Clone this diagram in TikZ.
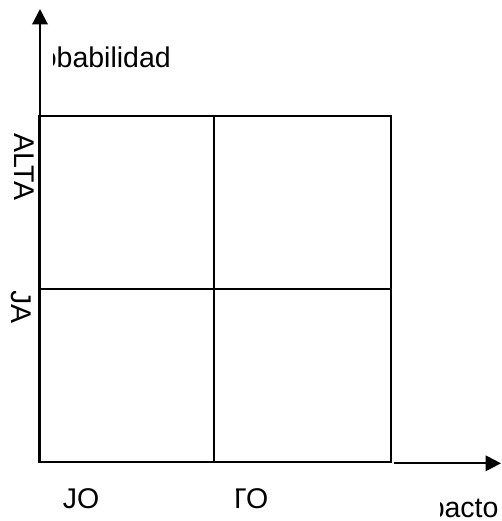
\documentclass[tikz,border=0pt]{standalone}
\usepackage{fontspec}
\setmainfont{Liberation Sans}
\usetikzlibrary{arrows.meta}

\begin{document}
\begin{tikzpicture}[x=1pt, y=-1pt,
    every node/.style={font=\fontsize{28.5}{34}\selectfont, inner sep=0pt},
    axis/.style={line width=2.2pt, -{Triangle[length=15.5pt,width=15.5pt]}},
    cell/.style={line width=2pt}]
  \useasboundingbox (0,0) rectangle (501,521);
  % Axis end points
  \coordinate (origin) at (40,462.2);
  \coordinate (ytip) at (40,9);
  \coordinate (xstart) at (394,463.3);
  \coordinate (xtip) at (501,463.3);

  % Cells
  \draw[cell] (38.5,115.7) rectangle (391,462.2);
  \draw[cell] (214.3,115.7) -- (214.3,462.2);
  \draw[cell] (38.5,288.5) -- (391,288.5);

  % Axes
  \draw[axis] (origin) -- (ytip);
  \draw[axis] (xstart) -- (xtip);

  % Axis labels, partly hidden
  \begin{scope}
    \clip (53.5,30) rectangle (200,90);
    \node[anchor=base east] (yname) at (171,68) {Probabilidad};
  \end{scope}
  \begin{scope}
    \clip (440.5,480) rectangle (501,521);
    \node[anchor=base east] (xname) at (498.7,517) {Impacto};
  \end{scope}

  % Levels on the vertical axis
  \node[rotate=-90, anchor=base west] (yhigh) at (14,133) {ALTA};
  \begin{scope}
    \clip (0,291) rectangle (37,340);
    \node[rotate=-90, anchor=base east] (ylow) at (12,324) {BAJA};
  \end{scope}

  % Levels on the horizontal axis
  \begin{scope}
    \clip (63.1,470) rectangle (120,521);
    \node[anchor=base east] (xlow) at (99.4,508) {BAJO};
  \end{scope}
  \begin{scope}
    \clip (236.3,470) rectangle (290,521);
    \node[anchor=base east] (xhigh) at (268.5,508) {ALTO};
  \end{scope}
\end{tikzpicture}
\end{document}
